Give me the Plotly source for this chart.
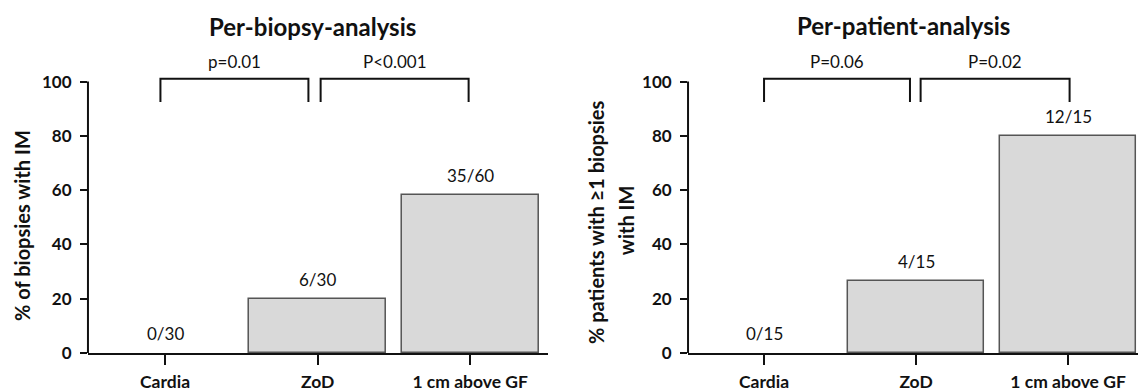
import plotly.graph_objects as go

categories = ["Cardia", "ZoD", "1 cm above GF"]

biopsy_values = [0, 20, 58.3]
biopsy_labels = ["0/30", "6/30", "35/60"]
biopsy_pvals = ["p=0.01", "P<0.001"]

patient_values = [0, 26.7, 80]
patient_labels = ["0/15", "4/15", "12/15"]
patient_pvals = ["P=0.06", "P=0.02"]

yticks = [0, 20, 40, 60, 80, 100]

FONT = "Lato"
TXT = "#111111"

fig = go.Figure()

def bar(values, xa, ya):
    return go.Bar(x=[0, 1, 2], y=values, width=0.9, xaxis=xa, yaxis=ya,
                  marker=dict(color="#d9d9d9",
                              line=dict(color="#555555", width=[1.5 if v > 0 else 0 for v in values])),
                  hoverinfo="skip", showlegend=False)

fig.add_trace(bar(biopsy_values, "x", "y"))
fig.add_trace(bar(patient_values, "x2", "y2"))

ydom = [0.0972, 0.8747]
common_x = dict(tickmode="array", tickvals=[0, 1, 2], ticktext=categories,
                showline=True, linecolor="#111111", linewidth=2,
                ticks="outside", ticklen=10, tickwidth=2, tickcolor="#111111",
                ticklabelstandoff=2, automargin=False,
                showgrid=False, zeroline=False, fixedrange=True,
                tickfont=dict(family=FONT, size=17.5, color=TXT, weight="bold"))
common_y = dict(range=[0, 112], tickmode="array", tickvals=yticks,
                showline=False, ticks="outside", ticklen=7, tickwidth=2, tickcolor="#111111",
                ticklabelstandoff=5, automargin=False,
                showgrid=False, zeroline=False, domain=ydom, fixedrange=True,
                tickfont=dict(family=FONT, size=17, color=TXT, weight="bold"))

fig.update_layout(
    template="none",
    width=1138, height=391, autosize=False,
    margin=dict(l=0, r=0, t=0, b=0, pad=0),
    paper_bgcolor="white", plot_bgcolor="white",
    xaxis=dict(domain=[0.0773, 0.4815], range=[-0.505, 2.51], anchor="y", **common_x),
    yaxis=dict(anchor="x", **common_y),
    xaxis2=dict(domain=[0.6046, 1.0], range=[-0.5, 2.46], anchor="y2", **common_x),
    yaxis2=dict(anchor="x2", **common_y),
    bargap=0,
)

shapes = []
annotations = []

def panel(xr, yr, values, labels, pvals, brackets):
    shapes.append(dict(type="line", xref=f"{xr} domain", yref=yr, x0=0, x1=0, y0=0, y1=100,
                       line=dict(color="#111111", width=2)))
    for i, (v, lab) in enumerate(zip(values, labels)):
        annotations.append(dict(xref=xr, yref=yr, x=i, y=v, text=lab, showarrow=False,
                                xanchor="center", yanchor="bottom", yshift=7,
                                font=dict(family=FONT, size=17, color=TXT)))
    for (a, b), p in zip(brackets, pvals):
        shapes.append(dict(type="path", xref=xr, yref=yr,
                           path=f"M {a},92.5 L {a},101 L {b},101 L {b},92.5",
                           line=dict(color="#111111", width=2)))
        annotations.append(dict(xref=xr, yref=yr, x=(a + b) / 2, y=101, text=p, showarrow=False,
                                xanchor="center", yanchor="bottom", yshift=5,
                                font=dict(family=FONT, size=17, color=TXT)))

panel("x", "y", biopsy_values, biopsy_labels, biopsy_pvals, [(-0.03, 0.94), (1.02, 1.99)])
panel("x2", "y2", patient_values, patient_labels, patient_pvals, [(0.0, 0.96), (1.03, 2.01)])

def label(x, y, text, size, angle=0):
    annotations.append(dict(xref="paper", yref="paper", x=x, y=y, text=f"<b>{text}</b>",
                            xanchor="center", yanchor="middle", textangle=angle, showarrow=False,
                            font=dict(family=FONT, size=size, color=TXT)))

label(0.2742, 0.9335, "Per-biopsy-analysis", 24)
label(0.7935, 0.936, "Per-patient-analysis", 24)
label(0.0193, 0.4246, "% of biopsies with IM", 20, -90)
label(0.5237, 0.432, "% patients with ≥1 biopsies", 20, -90)
label(0.5501, 0.437, "with IM", 20, -90)

fig.update_layout(shapes=shapes, annotations=annotations)

fig.write_html("out.html", config={"displayModeBar": False},
               post_script="document.body.style.margin='0';document.body.style.overflow='hidden';")
